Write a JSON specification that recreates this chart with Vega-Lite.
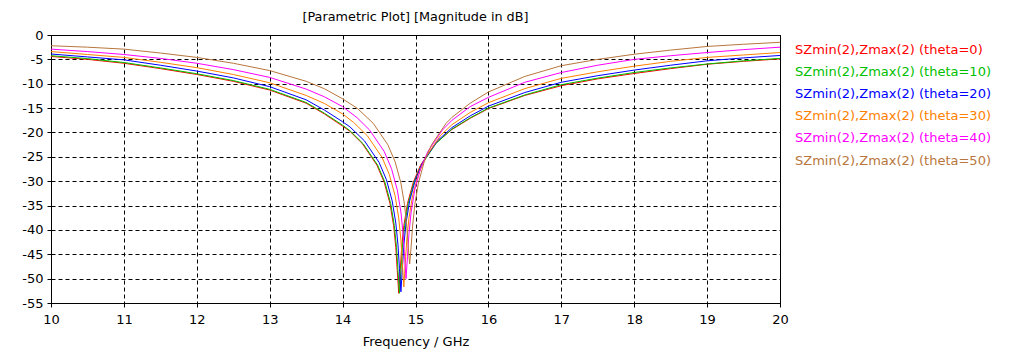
{
"$schema": "https://vega.github.io/schema/vega-lite/v6.json",
"width": 729,
"height": 268,
"autosize": {"type": "none"},
"padding": {"left": 51, "top": 35, "right": 244, "bottom": 52},
"background": "white",
"title": {"text": "[Parametric Plot] [Magnitude in dB]", "font": "DejaVu Sans", "fontSize": 12.8, "fontWeight": "normal", "color": "#000000", "offset": 5, "anchor": "middle"},
"config": {"view": {"stroke": "#000000", "strokeWidth": 1}},
"datasets": {
"curves": [
{"t":0,"f":10,"v":-4.4},{"t":0,"f":10.5,"v":-5.0},{"t":0,"f":11,"v":-5.8},{"t":0,"f":11.5,"v":-6.9},{"t":0,"f":12,"v":-8.1},{"t":0,"f":12.5,"v":-9.5},{"t":0,"f":13,"v":-11.3},{"t":0,"f":13.5,"v":-14.0},{"t":0,"f":13.75,"v":-16.2},{"t":0,"f":14,"v":-18.7},{"t":0,"f":14.1,"v":-19.76},{"t":0,"f":14.27,"v":-22.28},{"t":0,"f":14.47,"v":-26.69},{"t":0,"f":14.57,"v":-30.19},{"t":0,"f":14.65,"v":-34.59},{"t":0,"f":14.70,"v":-39.15},{"t":0,"f":14.73,"v":-43.66},{"t":0,"f":14.75,"v":-48.38},{"t":0,"f":14.77,"v":-53},{"t":0,"f":14.79,"v":-48.38},{"t":0,"f":14.81,"v":-43.66},{"t":0,"f":14.84,"v":-39.15},{"t":0,"f":14.89,"v":-34.59},{"t":0,"f":14.97,"v":-30.19},{"t":0,"f":15.07,"v":-26.69},{"t":0,"f":15.27,"v":-22.28},{"t":0,"f":15.5,"v":-19.4},{"t":0,"f":15.75,"v":-17.1},{"t":0,"f":16,"v":-15.1},{"t":0,"f":16.5,"v":-12.4},{"t":0,"f":17,"v":-10.4},{"t":0,"f":17.5,"v":-9.0},{"t":0,"f":18,"v":-7.9},{"t":0,"f":18.5,"v":-6.9},{"t":0,"f":19,"v":-6.0},{"t":0,"f":19.5,"v":-5.4},{"t":0,"f":20,"v":-4.9},
{"t":10,"f":10,"v":-4.25},{"t":10,"f":10.5,"v":-4.85},{"t":10,"f":11,"v":-5.65},{"t":10,"f":11.5,"v":-6.75},{"t":10,"f":12,"v":-7.95},{"t":10,"f":12.5,"v":-9.35},{"t":10,"f":13,"v":-11.15},{"t":10,"f":13.5,"v":-13.85},{"t":10,"f":13.75,"v":-16.05},{"t":10,"f":14,"v":-18.5},{"t":10,"f":14.1,"v":-19.63},{"t":10,"f":14.28,"v":-22.28},{"t":10,"f":14.48,"v":-26.69},{"t":10,"f":14.58,"v":-30.19},{"t":10,"f":14.66,"v":-34.59},{"t":10,"f":14.71,"v":-39.15},{"t":10,"f":14.74,"v":-43.66},{"t":10,"f":14.76,"v":-48.38},{"t":10,"f":14.78,"v":-53},{"t":10,"f":14.80,"v":-48.38},{"t":10,"f":14.82,"v":-43.66},{"t":10,"f":14.85,"v":-39.15},{"t":10,"f":14.90,"v":-34.59},{"t":10,"f":14.98,"v":-30.19},{"t":10,"f":15.08,"v":-26.69},{"t":10,"f":15.28,"v":-22.28},{"t":10,"f":15.5,"v":-19.3},{"t":10,"f":15.75,"v":-17.0},{"t":10,"f":16,"v":-15.0},{"t":10,"f":16.5,"v":-12.3},{"t":10,"f":17,"v":-10.2},{"t":10,"f":17.5,"v":-8.85},{"t":10,"f":18,"v":-7.7},{"t":10,"f":18.5,"v":-6.75},{"t":10,"f":19,"v":-5.95},{"t":10,"f":19.5,"v":-5.3},{"t":10,"f":20,"v":-4.8},
{"t":20,"f":10,"v":-3.9},{"t":20,"f":10.5,"v":-4.5},{"t":20,"f":11,"v":-5.1},{"t":20,"f":11.5,"v":-6.2},{"t":20,"f":12,"v":-7.4},{"t":20,"f":12.5,"v":-8.8},{"t":20,"f":13,"v":-10.6},{"t":20,"f":13.5,"v":-13.3},{"t":20,"f":13.75,"v":-15.4},{"t":20,"f":14,"v":-17.8},{"t":20,"f":14.1,"v":-18.84},{"t":20,"f":14.30,"v":-21.73},{"t":20,"f":14.50,"v":-26.14},{"t":20,"f":14.60,"v":-29.64},{"t":20,"f":14.68,"v":-34.04},{"t":20,"f":14.73,"v":-38.61},{"t":20,"f":14.76,"v":-43.13},{"t":20,"f":14.78,"v":-47.9},{"t":20,"f":14.80,"v":-52.7},{"t":20,"f":14.82,"v":-47.9},{"t":20,"f":14.84,"v":-43.13},{"t":20,"f":14.87,"v":-38.61},{"t":20,"f":14.92,"v":-34.04},{"t":20,"f":15.00,"v":-29.64},{"t":20,"f":15.10,"v":-26.14},{"t":20,"f":15.30,"v":-21.73},{"t":20,"f":15.5,"v":-19.0},{"t":20,"f":15.75,"v":-16.6},{"t":20,"f":16,"v":-14.6},{"t":20,"f":16.5,"v":-11.8},{"t":20,"f":17,"v":-9.7},{"t":20,"f":17.5,"v":-8.35},{"t":20,"f":18,"v":-7.2},{"t":20,"f":18.5,"v":-6.2},{"t":20,"f":19,"v":-5.3},{"t":20,"f":19.5,"v":-4.7},{"t":20,"f":20,"v":-4.2},
{"t":30,"f":10,"v":-3.4},{"t":30,"f":10.5,"v":-4.0},{"t":30,"f":11,"v":-4.6},{"t":30,"f":11.5,"v":-5.6},{"t":30,"f":12,"v":-6.7},{"t":30,"f":12.5,"v":-8.1},{"t":30,"f":13,"v":-9.8},{"t":30,"f":13.5,"v":-12.4},{"t":30,"f":13.75,"v":-14.05},{"t":30,"f":14,"v":-16.2},{"t":30,"f":14.15,"v":-17.92},{"t":30,"f":14.34,"v":-20.68},{"t":30,"f":14.54,"v":-25.08},{"t":30,"f":14.64,"v":-28.59},{"t":30,"f":14.72,"v":-32.98},{"t":30,"f":14.77,"v":-37.55},{"t":30,"f":14.80,"v":-42.07},{"t":30,"f":14.82,"v":-46.84},{"t":30,"f":14.84,"v":-51.7},{"t":30,"f":14.86,"v":-46.84},{"t":30,"f":14.88,"v":-42.07},{"t":30,"f":14.91,"v":-37.55},{"t":30,"f":14.96,"v":-32.98},{"t":30,"f":15.04,"v":-28.59},{"t":30,"f":15.14,"v":-25.08},{"t":30,"f":15.34,"v":-20.68},{"t":30,"f":15.5,"v":-18.4},{"t":30,"f":15.75,"v":-15.9},{"t":30,"f":16,"v":-13.9},{"t":30,"f":16.5,"v":-11.0},{"t":30,"f":17,"v":-8.9},{"t":30,"f":17.5,"v":-7.55},{"t":30,"f":18,"v":-6.4},{"t":30,"f":18.5,"v":-5.4},{"t":30,"f":19,"v":-4.6},{"t":30,"f":19.5,"v":-4.1},{"t":30,"f":20,"v":-3.6},
{"t":40,"f":10,"v":-2.9},{"t":40,"f":10.5,"v":-3.4},{"t":40,"f":11,"v":-4.0},{"t":40,"f":11.5,"v":-4.8},{"t":40,"f":12,"v":-5.8},{"t":40,"f":12.5,"v":-7.1},{"t":40,"f":13,"v":-8.7},{"t":40,"f":13.5,"v":-11.1},{"t":40,"f":13.75,"v":-12.68},{"t":40,"f":14,"v":-14.7},{"t":40,"f":14.2,"v":-16.99},{"t":40,"f":14.37,"v":-19.49},{"t":40,"f":14.57,"v":-23.89},{"t":40,"f":14.67,"v":-27.39},{"t":40,"f":14.75,"v":-31.78},{"t":40,"f":14.80,"v":-36.33},{"t":40,"f":14.83,"v":-40.82},{"t":40,"f":14.85,"v":-45.5},{"t":40,"f":14.87,"v":-50},{"t":40,"f":14.89,"v":-45.5},{"t":40,"f":14.91,"v":-40.82},{"t":40,"f":14.94,"v":-36.33},{"t":40,"f":14.99,"v":-31.78},{"t":40,"f":15.07,"v":-27.39},{"t":40,"f":15.17,"v":-23.89},{"t":40,"f":15.37,"v":-19.49},{"t":40,"f":15.5,"v":-17.5},{"t":40,"f":15.75,"v":-14.7},{"t":40,"f":16,"v":-12.8},{"t":40,"f":16.5,"v":-9.7},{"t":40,"f":17,"v":-7.7},{"t":40,"f":17.5,"v":-6.2},{"t":40,"f":18,"v":-5.0},{"t":40,"f":18.5,"v":-4.25},{"t":40,"f":19,"v":-3.6},{"t":40,"f":19.5,"v":-3.0},{"t":40,"f":20,"v":-2.5},
{"t":50,"f":10,"v":-2.2},{"t":50,"f":10.5,"v":-2.5},{"t":50,"f":11,"v":-2.9},{"t":50,"f":11.5,"v":-3.7},{"t":50,"f":12,"v":-4.6},{"t":50,"f":12.5,"v":-5.8},{"t":50,"f":13,"v":-7.3},{"t":50,"f":13.5,"v":-9.5},{"t":50,"f":13.75,"v":-11.03},{"t":50,"f":14,"v":-13.1},{"t":50,"f":14.2,"v":-15.03},{"t":50,"f":14.42,"v":-18.12},{"t":50,"f":14.62,"v":-22.51},{"t":50,"f":14.72,"v":-26.0},{"t":50,"f":14.80,"v":-30.37},{"t":50,"f":14.85,"v":-34.87},{"t":50,"f":14.88,"v":-39.21},{"t":50,"f":14.90,"v":-43.47},{"t":50,"f":14.92,"v":-47},{"t":50,"f":14.94,"v":-43.47},{"t":50,"f":14.96,"v":-39.21},{"t":50,"f":14.99,"v":-34.87},{"t":50,"f":15.04,"v":-30.37},{"t":50,"f":15.12,"v":-26.0},{"t":50,"f":15.22,"v":-22.51},{"t":50,"f":15.42,"v":-18.12},{"t":50,"f":15.5,"v":-16.9},{"t":50,"f":15.75,"v":-14.0},{"t":50,"f":16,"v":-11.7},{"t":50,"f":16.5,"v":-8.5},{"t":50,"f":17,"v":-6.3},{"t":50,"f":17.5,"v":-5.0},{"t":50,"f":18,"v":-3.95},{"t":50,"f":18.5,"v":-3.1},{"t":50,"f":19,"v":-2.35},{"t":50,"f":19.5,"v":-1.9},{"t":50,"f":20,"v":-1.5}
]
},
"data": {"name": "curves"},
"mark": {"type": "line", "strokeWidth": 1, "clip": true},
"encoding": {
"x": {"field": "f", "type": "quantitative",
 "scale": {"domain": [10, 20], "nice": false, "zero": false},
 "axis": {"values": [10,11,12,13,14,15,16,17,18,19,20], "title": "Frequency / GHz", "grid": true, "gridColor": "#000000", "gridDash": [4,3], "gridOpacity": 1, "domainColor": "#000000", "tickColor": "#000000", "tickSize": 4, "labelFont": "DejaVu Sans", "labelFontSize": 13, "labelColor": "#000000", "labelPadding": 6, "labelFlush": false, "titleFont": "DejaVu Sans", "titleFontSize": 13, "titleFontWeight": "normal", "titleColor": "#000000", "titlePadding": 9}},
"y": {"field": "v", "type": "quantitative",
 "scale": {"domain": [-55, 0], "nice": false, "zero": false},
 "axis": {"values": [-55,-50,-45,-40,-35,-30,-25,-20,-15,-10,-5,0], "title": null, "labelExpr": "'' + datum.value", "grid": true, "gridColor": "#000000", "gridDash": [4,3], "gridOpacity": 1, "domainColor": "#000000", "tickColor": "#000000", "tickSize": 4, "labelFont": "DejaVu Sans", "labelFontSize": 13, "labelColor": "#000000", "labelPadding": 4, "labelFlush": false}},
"color": {"field": "t", "type": "nominal",
 "scale": {"domain": [0,10,20,30,40,50], "range": ["#ff0000", "#00c000", "#0000ff", "#ff8000", "#ff00ff", "#b8763c"]},
 "legend": {"title": null, "orient": "right", "offset": -6, "padding": 8, "labelExpr": "'SZmin(2),Zmax(2) (theta=' + datum.label + ')'", "labelFont": "DejaVu Sans", "labelFontSize": 13, "labelOffset": 0, "labelLimit": 300, "symbolSize": 0, "symbolOpacity": 0, "symbolStrokeWidth": 0, "rowPadding": 8.2,
  "encode": {"labels": {"update": {"fill": {"scale": "color", "field": "value"}}}}}}
}
}
